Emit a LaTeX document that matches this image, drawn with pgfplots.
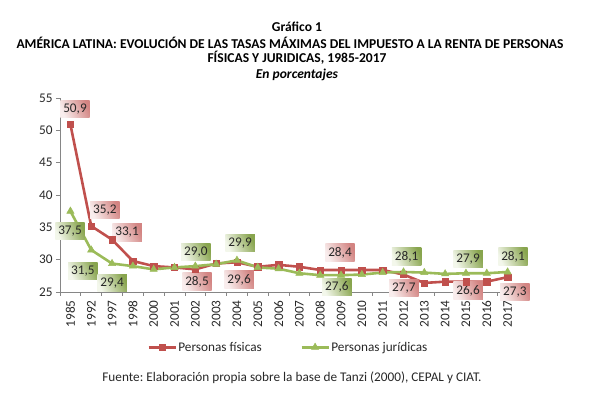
\documentclass[border=0pt]{standalone}
\usepackage{pgfplots}
\pgfplotsset{compat=1.18}
\usepackage{fontspec}
\setmainfont{Carlito}
\frenchspacing

\definecolor{rojo}{RGB}{192,80,77}
\definecolor{verde}{RGB}{155,187,89}
\definecolor{ejes}{RGB}{134,134,134}
\definecolor{texto}{RGB}{40,40,40}

\newcommand{\fs}{\fontsize{13.3}{15}\selectfont}
\newcommand{\ft}{\fontsize{13.6}{15}\selectfont}

\tikzset{
  lblR/.style={inner xsep=3bp, inner ysep=3.5bp, font=\fs, text=texto,
    left color=rojo!10!white, right color=rojo!70!white, shading angle=115},
  lblG/.style={inner xsep=3bp, inner ysep=3.5bp, font=\fs, text=texto,
    left color=verde!12!white, right color=verde!88!black, shading angle=115},
}

\begin{document}
\begin{tikzpicture}
\begin{axis}[
    at={(60bp,108bp)},
    anchor=south west,
    width=458bp,
    height=194bp,
    scale only axis,
    clip=false,
    xmin=-0.5, xmax=21.5,
    ymin=25, ymax=55,
    ytick={25,30,...,55},
    xtick={0,...,21},
    xticklabels={1985,1992,1997,1998,2000,2001,2002,2003,2004,2005,2006,2007,2008,2009,2010,2011,2012,2013,2014,2015,2016,2017},
    x tick label style={rotate=90, anchor=east, xshift=-1bp},
    minor xtick={-0.5,0.5,...,21.5},
    major x tick style={draw=none},
    axis x line*=bottom,
    axis y line*=left,
    axis line style={ejes, line width=0.8pt},
    tick style={ejes, line width=0.8pt},
    tick align=outside,
    major tick length=4bp,
    minor tick length=4bp,
    tick label style={font=\fs, text=texto},
    /pgf/number format/assume math mode=true,
    legend columns=2,
    legend style={at={(0.498,-0.285)}, anchor=center, draw=none, fill=none,
        font=\fs, text=texto, nodes={inner xsep=1.5bp},
        /tikz/every even column/.append style={column sep=37bp}},
    legend image code/.code={
        \draw[mark repeat=2, mark phase=2] plot coordinates {(0bp,0bp) (13.5bp,0bp) (27bp,0bp)};
    },
]

\addplot[color=rojo, line width=2.6pt, mark=square*, mark size=3.2pt,
    mark options={line width=0.5pt}] coordinates {
    (0,50.9) (1,35.2) (2,33.1) (3,29.8) (4,29.0) (5,28.8) (6,28.5) (7,29.4)
    (8,29.6) (9,28.9) (10,29.2) (11,28.9) (12,28.4) (13,28.4) (14,28.4)
    (15,28.4) (16,27.7) (17,26.4) (18,26.6) (19,26.6) (20,26.6) (21,27.3)
};
\addlegendentry{Personas físicas}

\addplot[color=verde, line width=2.6pt, mark=triangle*, mark size=4.2pt,
    mark options={line width=0.5pt}] coordinates {
    (0,37.5) (1,31.5) (2,29.4) (3,29.0) (4,28.5) (5,28.8) (6,29.0) (7,29.3)
    (8,29.9) (9,28.8) (10,28.6) (11,27.9) (12,27.6) (13,27.6) (14,27.7)
    (15,28.0) (16,28.1) (17,28.0) (18,27.8) (19,27.9) (20,27.9) (21,28.1)
};
\addlegendentry{Personas jurídicas}

\node[lblR] at (axis cs:0.22,53.3) {50,9};
\node[lblR] at (axis cs:1.66,37.7) {35,2};
\node[lblR] at (axis cs:2.72,34.2) {33,1};
\node[lblG] at (axis cs:-0.02,34.4) {37,5};
\node[lblG] at (axis cs:0.6,28.3) {31,5};
\node[lblG] at (axis cs:2.0,26.4) {29,4};
\node[lblG] at (axis cs:6.03,31.2) {29,0};
\node[lblR] at (axis cs:6.08,26.6) {28,5};
\node[lblG] at (axis cs:8.15,32.6) {29,9};
\node[lblR] at (axis cs:8.1,26.9) {29,6};
\node[lblR] at (axis cs:12.95,31.1) {28,4};
\node[lblG] at (axis cs:12.8,25.8) {27,6};
\node[lblG] at (axis cs:16.15,30.5) {28,1};
\node[lblR] at (axis cs:16.02,25.6) {27,7};
\node[lblG] at (axis cs:19.1,30.1) {27,9};
\node[lblR] at (axis cs:19.1,25.2) {26,6};
\node[lblG] at (axis cs:21.26,30.5) {28,1};
\node[lblR] at (axis cs:21.35,25.05) {27,3};
\end{axis}

\begin{scope}[font=\fs, text=texto]
\node[font=\ft\bfseries, text=black] at (297bp,373bp) {Gráfico 1};
\node[font=\ft\bfseries, text=black] at (290bp,357bp) {AMÉRICA LATINA: EVOLUCIÓN DE LAS TASAS MÁXIMAS DEL IMPUESTO A LA RENTA DE PERSONAS};
\node[font=\ft\bfseries, text=black] at (297bp,342bp) {FÍSICAS Y JURIDICAS, 1985-2017};
\node[font=\ft\bfseries\itshape, text=black] at (297bp,325bp) {En porcentajes};
\node at (292bp,22bp) {Fuente: Elaboración propia sobre la base de Tanzi (2000), CEPAL y CIAT.};
\end{scope}

\pgfresetboundingbox
\path (0,0) rectangle (595bp,400bp);
\end{tikzpicture}
\end{document}
